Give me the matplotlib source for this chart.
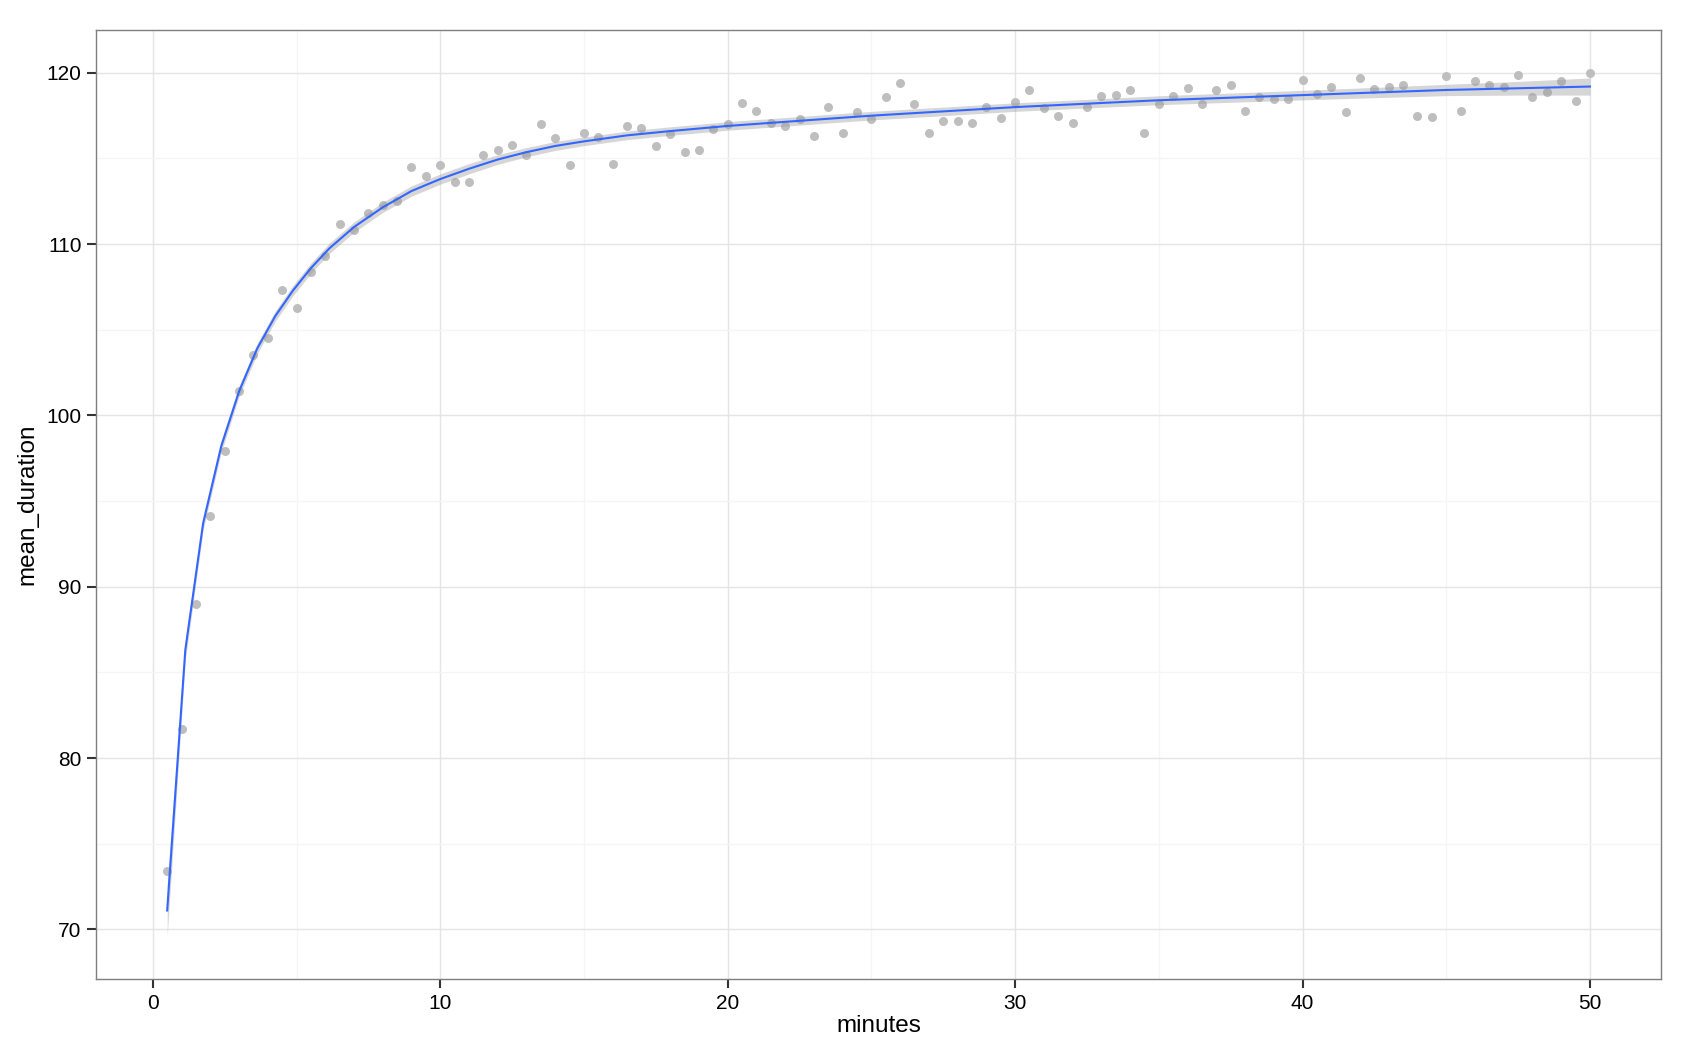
import numpy as np
import matplotlib
matplotlib.use("Agg")
import matplotlib.pyplot as plt

plt.rcParams['font.family'] = ['Liberation Sans', 'DejaVu Sans']

# observed points, one every half minute
minutes = np.arange(1, 101) * 0.5
mean_duration = [
    73.4, 81.7, 89.0, 94.1, 97.9, 101.4, 103.5, 104.5, 107.3, 106.3,
    108.4, 109.3, 111.2, 110.8, 111.8, 112.3, 112.5, 114.5, 114.0, 114.6,
    113.6, 113.6, 115.2, 115.5, 115.8, 115.2, 117.0, 116.2, 114.6, 116.5,
    116.25, 114.7, 116.9, 116.8, 115.7, 116.45, 115.4, 115.5, 116.7, 117.0,
    118.25, 117.75, 117.1, 116.9, 117.3, 116.3, 118.0, 116.5, 117.7, 117.3,
    118.6, 119.4, 118.2, 116.5, 117.2, 117.2, 117.1, 118.0, 117.35, 118.3,
    119.0, 117.95, 117.5, 117.1, 118.0, 118.66, 118.7, 119.0, 116.5, 118.2,
    118.66, 119.1, 118.2, 119.0, 119.3, 117.8, 118.6, 118.5, 118.45, 119.6,
    118.76, 119.2, 117.7, 119.7, 119.07, 119.19, 119.3, 117.5, 117.4, 119.8,
    117.8, 119.5, 119.3, 119.2, 119.9, 118.6, 118.9, 119.5, 118.35, 120.0,
]

# smoothed fit, with its confidence half-width
fit_x = [0.5, 1.13, 1.75, 2.38, 3.0, 3.63, 4.26, 4.88, 5.5, 6.14, 7, 8, 9, 10,
         11, 12, 13, 14, 15, 16.5, 18, 20, 22.5, 25, 27.5, 30, 32.5, 35, 37.5,
         40, 42.5, 45, 47.5, 50]
fit_y = [71.1, 86.3, 93.7, 98.2, 101.4, 103.9, 105.8, 107.3, 108.6, 109.75,
         111.0, 112.15, 113.1, 113.8, 114.4, 114.94, 115.37, 115.73, 116.0,
         116.35, 116.6, 116.9, 117.2, 117.5, 117.75, 118.0, 118.2, 118.4,
         118.55, 118.7, 118.85, 119.0, 119.1, 119.2]
fit_se = [1.5, 0.6, 0.4, 0.35, 0.3, 0.3, 0.3, 0.3, 0.3, 0.3, 0.3, 0.3, 0.3, 0.3,
          0.3, 0.28, 0.27, 0.26, 0.25, 0.25, 0.25, 0.25, 0.25, 0.25, 0.25,
          0.25, 0.25, 0.26, 0.27, 0.28, 0.3, 0.33, 0.4, 0.5]

fig = plt.figure(figsize=(16.91, 10.57), dpi=100)
ax = fig.add_axes([0.0568, 0.0738, 0.9255, 0.8978])

ax.scatter(minutes, mean_duration, s=42, color='#BEBEBE', linewidths=0, zorder=3)
lo = np.array(fit_y) - np.array(fit_se)
hi = np.array(fit_y) + np.array(fit_se)
ax.fill_between(fit_x, lo, hi, color='#999999', alpha=0.4, linewidth=0, zorder=4)
ax.plot(fit_x, fit_y, color='#3366FF', lw=1.5, zorder=5)

ax.set_xlim(-1.975, 52.475)
ax.set_ylim(67.1, 122.5)
ax.set_xticks([0, 10, 20, 30, 40, 50])
ax.set_yticks([70, 80, 90, 100, 110, 120])
ax.set_xticks([5, 15, 25, 35, 45], minor=True)
ax.set_yticks([75, 85, 95, 105, 115], minor=True)
ax.grid(which='major', color='#E5E5E5', lw=1.0)
ax.grid(which='minor', color='#F5F5F5', lw=1.0)
ax.set_axisbelow(True)
ax.tick_params(which='major', length=6.5, width=1.5, color='#333333',
               labelsize=15, labelcolor='black', pad=4)
ax.tick_params(which='minor', length=0)
for s in ax.spines.values():
    s.set_color('#7F7F7F')
    s.set_linewidth(1.0)

ax.set_xlabel('minutes', fontsize=17.5, labelpad=2)
ax.set_ylabel('mean_duration', fontsize=17.5, labelpad=6)

fig.savefig('out.png', dpi=100)
